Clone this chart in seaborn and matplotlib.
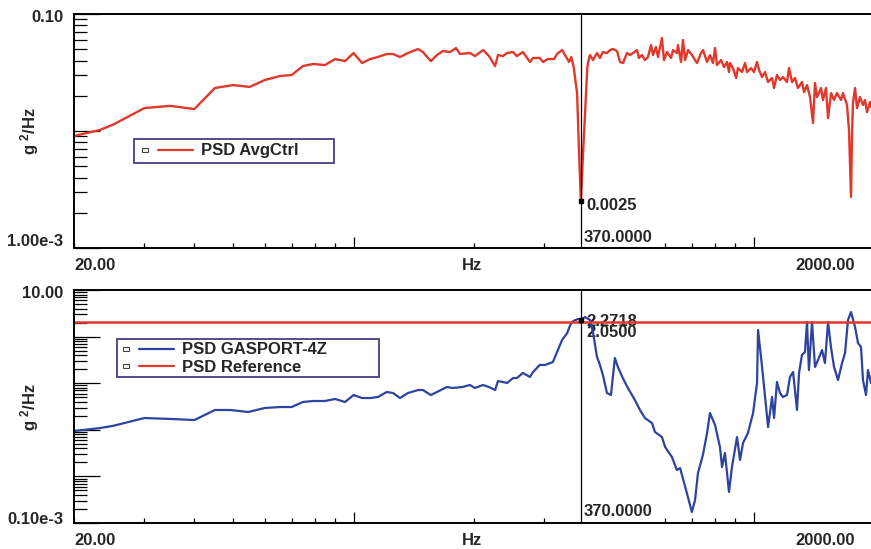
import numpy as np
import pandas as pd
import matplotlib
matplotlib.use("Agg")
import matplotlib.pyplot as plt
import seaborn as sns
from matplotlib.lines import Line2D
from matplotlib.patches import Rectangle
from matplotlib.legend_handler import HandlerBase
from matplotlib.ticker import LogLocator, NullFormatter

# ---------------- data ----------------
ctrl_freq = [20, 23.2, 25, 30, 34.8, 40, 45, 50, 55, 60, 65.5, 70, 74.7, 79.2, 84.8, 89.9, 95.2,
             100, 105, 110, 115, 121, 125.5, 130.6, 136.8, 144.9, 149, 156, 161.6, 167.3, 174.2,
             180.3, 184.5, 195.4, 201.2, 210.7, 218, 225.8, 229.6, 236.4, 242, 250.4, 256, 265,
             276, 281, 292, 297.6, 306, 317, 322.6, 332, 337.8, 345.7, 350, 355, 362, 366, 370,
             375, 379, 384, 388, 390, 396.8, 406, 413, 420, 430, 437.6, 445, 455.6, 463.5, 471.6,
             482.6, 491, 499.6, 511, 517, 526, 535, 544.6, 554, 560.5, 570, 577, 590, 597, 607.5,
             621.7, 629, 643.5, 647, 658.6, 666, 674, 685.6, 701.6, 713.8, 722, 739, 747.4, 765,
             778, 791.7, 801, 810, 829, 843.5, 858, 868, 873, 888, 904, 914, 935.5, 952, 963, 985,
             1002, 1020, 1032, 1050, 1068, 1087, 1112, 1125, 1144, 1164, 1185, 1212, 1226, 1248,
             1269, 1291, 1321, 1337, 1360, 1384, 1408, 1424, 1441, 1474, 1491, 1517, 1535, 1562,
             1589, 1616, 1654, 1673, 1712, 1732, 1752, 1762, 1772, 1793, 1814, 1845, 1877, 1899,
             1921, 1955, 1966]
ctrl_psd = [0.00906, 0.0102, 0.0113, 0.0157, 0.0164, 0.0154, 0.0233, 0.0247, 0.0238, 0.0273,
            0.0295, 0.0301, 0.0359, 0.0374, 0.0366, 0.0412, 0.0396, 0.0464, 0.0381, 0.0412,
            0.0429, 0.0455, 0.0455, 0.0429, 0.0464, 0.0502, 0.0473, 0.0396, 0.0446, 0.0483,
            0.0473, 0.0512, 0.0455, 0.0464, 0.0437, 0.0492, 0.0437, 0.0359, 0.0446, 0.0437,
            0.0464, 0.0473, 0.0437, 0.0473, 0.0389, 0.0421, 0.0421, 0.0389, 0.0412, 0.0412,
            0.0455, 0.0492, 0.0446, 0.0389, 0.0429, 0.0352, 0.0211, 0.00688, 0.0025,
            0.00688, 0.0140, 0.0352, 0.0421, 0.0446, 0.0404, 0.0464, 0.0421, 0.0473, 0.0464,
            0.0492, 0.0502, 0.0483, 0.0389, 0.0381, 0.0464, 0.0446, 0.0464, 0.0492, 0.0421,
            0.0446, 0.0404, 0.0429, 0.0543, 0.0446, 0.0522, 0.0429, 0.0624, 0.0404, 0.0473,
            0.0421, 0.0492, 0.0464, 0.0543, 0.0389, 0.0600, 0.0404, 0.0492, 0.0446, 0.0404,
            0.0381, 0.0464, 0.0492, 0.0389, 0.0446, 0.0381, 0.0512, 0.0366, 0.0404, 0.0352,
            0.0389, 0.0319, 0.0381, 0.0345, 0.0284, 0.0345, 0.0319, 0.0381, 0.0319, 0.0345,
            0.0319, 0.0389, 0.0332, 0.0289, 0.0319, 0.0262, 0.0284, 0.0233, 0.0301, 0.0273,
            0.0289, 0.0262, 0.0345, 0.0262, 0.0284, 0.0233, 0.0262, 0.0215, 0.0247, 0.0195,
            0.0117, 0.0257, 0.0195, 0.0233, 0.0184, 0.0233, 0.0129, 0.0211, 0.0184, 0.0211,
            0.0184, 0.0211, 0.0167, 0.0102, 0.00273, 0.0090, 0.0173, 0.0233, 0.0157, 0.0195,
            0.0167, 0.0184, 0.0145, 0.0177, 0.0160]

gas_freq = [20, 23.2, 25, 30, 34.8, 40, 45, 49.2, 54.5, 60, 65.5, 70, 74.7, 79.2, 84.8, 89.9,
            95.2, 100, 105, 110, 115, 121, 125.5, 130.6, 136.8, 145, 149, 156, 161.6, 171, 177,
            187, 195.4, 201, 210.7, 218, 225.8, 229.6, 236.4, 242, 250.4, 256, 265, 276, 281,
            292, 301, 315, 322.6, 332, 342, 348, 354, 364, 370, 379, 390, 397, 406, 413, 420,
            430, 440, 450, 458, 471, 485, 505, 520, 535, 557, 567, 590, 601, 625, 643, 655, 681,
            701, 714, 726, 747, 765, 778, 801, 824, 834, 848, 868, 883, 909, 925, 941, 968, 997,
            1020, 1026, 1050, 1068, 1087, 1112, 1125, 1144, 1164, 1184, 1212, 1233, 1255, 1284,
            1299, 1321, 1344, 1360, 1375, 1400, 1424, 1449, 1483, 1508, 1535, 1561, 1589, 1626,
            1664, 1693, 1722, 1752, 1793, 1824, 1856, 1877, 1910, 1932, 1966]
gas_psd = [0.00942, 0.0109, 0.0121, 0.0179, 0.0171, 0.0162, 0.0266, 0.0266, 0.0241, 0.0294,
           0.0308, 0.0308, 0.0395, 0.0415, 0.0415, 0.0458, 0.0395, 0.0558, 0.0481, 0.0481,
           0.0506, 0.0647, 0.0616, 0.0481, 0.0616, 0.0714, 0.0714, 0.0558, 0.0647, 0.0828,
           0.0789, 0.0828, 0.0915, 0.0789, 0.0915, 0.0828, 0.0714, 0.111, 0.106, 0.101, 0.129,
           0.129, 0.166, 0.136, 0.174, 0.246, 0.246, 0.285, 0.467, 0.845, 1.19, 1.77, 2.16,
           2.39, 2.2718, 2.63, 2.27, 1.19, 0.365, 0.246, 0.150, 0.0616, 0.0558, 0.347, 0.223,
           0.129, 0.0789, 0.0436, 0.0266, 0.0179, 0.0140, 0.00897, 0.00700, 0.00427, 0.00261,
           0.00137, 0.00151, 0.000440, 0.000172, 0.000312, 0.00118, 0.00288, 0.00854, 0.0229,
           0.01268, 0.00427, 0.00159, 0.00318, 0.000463, 0.00159, 0.00700, 0.00225, 0.00521,
           0.00854, 0.0229, 0.101, 1.39, 0.223, 0.0506, 0.01148, 0.0506, 0.0179, 0.106,
           0.0616, 0.0506, 0.0558, 0.136, 0.174, 0.0266, 0.166, 0.403, 0.467, 2.06, 0.192,
           2.06, 0.223, 0.315, 0.515, 0.271, 2.06, 0.598, 0.223, 0.117, 0.271, 0.445, 2.27,
           3.37, 1.61, 0.729, 0.598, 0.117, 0.0558, 0.192, 0.101]

ref_freq = [20, 2000]
ref_psd = [2.05, 2.05]

cursor_freq = 370.0
cursor_ctrl = 0.0025
cursor_gas = 2.2718
cursor_ref = 2.05

x_labels = ["20.00", "Hz", "2000.00"]
top_ylabels = ["0.10", "1.00e-3"]
bot_ylabels = ["10.00", "0.10e-3"]

# ---------------- style ----------------
sns.set_style("white")
plt.rcParams["font.family"] = ["Liberation Sans", "DejaVu Sans"]
plt.rcParams["font.weight"] = "bold"
plt.rcParams["mathtext.fontset"] = "custom"
plt.rcParams["mathtext.rm"] = "Liberation Sans:bold"
plt.rcParams["mathtext.it"] = "Liberation Sans:bold"
plt.rcParams["mathtext.bf"] = "Liberation Sans:bold"

RED = "#e1382c"
BLUE = "#2d43a0"
FRAME = "#4a3c88"
FS = 12
PX = 0.72  # points per pixel at dpi 100

fig = plt.figure(figsize=(8.71, 5.49), dpi=100)
W, H = 871.0, 549.0
ax1 = fig.add_axes([74 / W, 1 - 248 / H, 800 / W, 234 / H])
ax2 = fig.add_axes([74 / W, 1 - 523 / H, 800 / W, 233 / H])

df_ctrl = pd.DataFrame({"Hz": ctrl_freq, "PSD": ctrl_psd})
df_gas = pd.DataFrame({"Hz": gas_freq, "PSD": gas_psd})
df_ref = pd.DataFrame({"Hz": ref_freq, "PSD": ref_psd})

sns.lineplot(data=df_ctrl, x="Hz", y="PSD", ax=ax1, color=RED, linewidth=1.7,
             estimator=None, sort=False, legend=False)
sns.lineplot(data=df_gas, x="Hz", y="PSD", ax=ax2, color=BLUE, linewidth=1.6,
             estimator=None, sort=False, legend=False)
sns.lineplot(data=df_ref, x="Hz", y="PSD", ax=ax2, color=RED, linewidth=1.8,
             estimator=None, sort=False, legend=False)

for ax, ylim in ((ax1, (1e-3, 0.1)), (ax2, (1e-4, 10))):
    ax.set_xscale("log")
    ax.set_yscale("log")
    ax.set_xlim(20, 2000)
    ax.set_ylim(*ylim)
    ax.set_xlabel("")
    ax.set_ylabel(r"g $^{2}$/Hz", fontsize=FS, fontweight="bold")
    ax.yaxis.set_label_coords(-33 / 800, 0.5)
    ax.xaxis.set_major_locator(LogLocator(base=10, numticks=10))
    ax.xaxis.set_minor_locator(LogLocator(base=10, subs=np.arange(2, 10), numticks=30))
    ax.yaxis.set_major_locator(LogLocator(base=10, numticks=10))
    ax.yaxis.set_minor_locator(LogLocator(base=10, subs=np.arange(2, 10), numticks=30))
    for a in (ax.xaxis, ax.yaxis):
        a.set_major_formatter(NullFormatter())
        a.set_minor_formatter(NullFormatter())
    ax.tick_params(axis="x", which="major", direction="in", length=8, width=0.9,
                   bottom=True, top=False, color="black")
    ax.tick_params(axis="x", which="minor", direction="in", length=3.6, width=0.9,
                   bottom=True, top=False, color="black")
    ax.tick_params(axis="y", which="major", direction="in", length=18.5, width=0.9,
                   left=True, right=False, color="black")
    ax.tick_params(axis="y", which="minor", direction="in", length=9.4, width=0.9,
                   left=True, right=False, color="black")
    for s in ("left", "top", "bottom"):
        ax.spines[s].set_color("black")
        ax.spines[s].set_linewidth(1.4)
        ax.spines[s].set_zorder(5)
    ax.spines["right"].set_visible(False)

    # cursor line
    ax.axvline(cursor_freq, color="black", linewidth=0.9, zorder=4)

    # x labels
    ax.annotate(x_labels[0], xy=(0, 0), xycoords="axes fraction", xytext=(0, -10 * PX),
                textcoords="offset points", ha="left", va="top", fontsize=FS, fontweight="bold")
    ax.annotate(x_labels[1], xy=(0.4975, 0), xycoords="axes fraction", xytext=(0, -10 * PX),
                textcoords="offset points", ha="center", va="top", fontsize=FS, fontweight="bold")
    ax.annotate(x_labels[2], xy=(781 / 800, 0), xycoords="axes fraction", xytext=(0, -10 * PX),
                textcoords="offset points", ha="right", va="top", fontsize=FS, fontweight="bold")

    # cursor x readout
    ax.annotate(f"{cursor_freq:.4f}", xy=(cursor_freq, 0), xycoords=("data", "axes fraction"),
                xytext=(2.5 * PX, 3.5 * PX), textcoords="offset points", ha="left", va="bottom",
                fontsize=FS, fontweight="bold", zorder=3,
                bbox=dict(boxstyle="square,pad=0.15", fc="white", ec="none"))

# y tick labels
ax1.annotate(top_ylabels[0], xy=(0, 1), xycoords="axes fraction", xytext=(-11 * PX, -3.5 * PX),
             textcoords="offset points", ha="right", va="center", fontsize=FS, fontweight="bold")
ax1.annotate(top_ylabels[1], xy=(0, 0), xycoords="axes fraction", xytext=(-11 * PX, 7 * PX),
             textcoords="offset points", ha="right", va="center", fontsize=FS, fontweight="bold")
ax2.annotate(bot_ylabels[0], xy=(0, 1), xycoords="axes fraction", xytext=(-11 * PX, -4 * PX),
             textcoords="offset points", ha="right", va="center", fontsize=FS, fontweight="bold")
ax2.annotate(bot_ylabels[1], xy=(0, 0), xycoords="axes fraction", xytext=(-11 * PX, 4 * PX),
             textcoords="offset points", ha="right", va="center", fontsize=FS, fontweight="bold")

# cursor markers / readouts
ax1.plot([cursor_freq], [cursor_ctrl], marker="s", markersize=2.5, color="black", zorder=6)
ax1.annotate(f"{cursor_ctrl:.4f}", xy=(cursor_freq, cursor_ctrl), xytext=(6 * PX, -4 * PX),
             textcoords="offset points", ha="left", va="center", fontsize=FS, fontweight="bold")
ax2.plot([cursor_freq], [cursor_gas], marker="s", markersize=3, color="black", zorder=6)
ax2.annotate(f"{cursor_gas:.4f}", xy=(cursor_freq, cursor_gas), xytext=(6 * PX, -2 * PX),
             textcoords="offset points", ha="left", va="center", fontsize=FS, fontweight="bold",
             zorder=1.5)
ax2.annotate(f"{cursor_ref:.4f}", xy=(cursor_freq, cursor_ref), xytext=(6 * PX, -10 * PX),
             textcoords="offset points", ha="left", va="center", fontsize=FS, fontweight="bold",
             zorder=1.6)


# ---------------- legends ----------------
class BoxLineHandler(HandlerBase):
    def create_artists(self, legend, orig_handle, xdescent, ydescent, width, height,
                       fontsize, trans):
        y = height / 2 - ydescent
        x0 = -xdescent
        box = Rectangle((x0, y - 1.5), 4.2, 3.0, facecolor="#f2f2f2", edgecolor="#3a3a3a",
                        linewidth=0.7, transform=trans)
        ln = Line2D([x0 + 11.5, x0 + width], [y, y], color=orig_handle.get_color(),
                    linewidth=1.6, transform=trans)
        return [box, ln]


h_ctrl = ax1.lines[0]
h_gas, h_ref = ax2.lines[0], ax2.lines[1]
leg_kw = dict(frameon=False, borderpad=0, borderaxespad=0, handlelength=3.06,
              handletextpad=0.45, labelspacing=0.12, loc="center left",
              prop={"weight": "bold", "size": FS}, handler_map={Line2D: BoxLineHandler()})
ax1.legend([h_ctrl], ["PSD AvgCtrl"], bbox_to_anchor=(142 / W, 1 - 151 / H),
           bbox_transform=fig.transFigure, **leg_kw)
ax2.legend([h_gas, h_ref], ["PSD GASPORT-4Z", "PSD Reference"],
           bbox_to_anchor=(123 / W, 1 - 358.5 / H), bbox_transform=fig.transFigure, **leg_kw)

fig.add_artist(Rectangle((134 / W, 1 - 163 / H), 200 / W, 24 / H, transform=fig.transFigure,
                         fill=False, edgecolor=FRAME, linewidth=1.3))
fig.add_artist(Rectangle((117 / W, 1 - 377 / H), 262 / W, 38 / H, transform=fig.transFigure,
                         fill=False, edgecolor=FRAME, linewidth=1.3))

fig.savefig("out.png", dpi=100, facecolor="white")
